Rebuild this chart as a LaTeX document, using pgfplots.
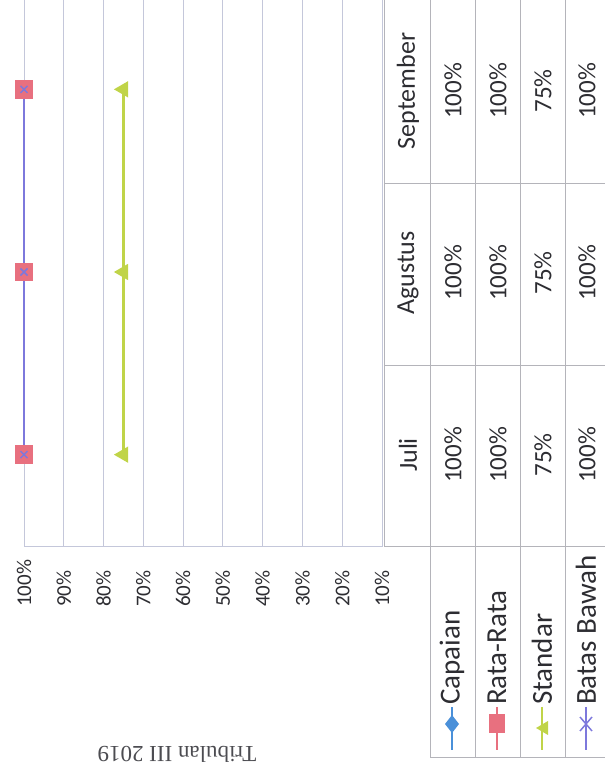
\documentclass[border=0pt]{standalone}
\usepackage{pgfplots}
\pgfplotsset{compat=1.18}
\usepackage{fontspec}
\setmainfont{Carlito}
\newfontfamily\seriffont{Liberation Serif}
\definecolor{capc}{RGB}{74,144,217}
\definecolor{ratac}{RGB}{232,112,127}
\definecolor{stdc}{RGB}{192,212,72}
\definecolor{batc}{RGB}{125,120,220}
\definecolor{gridc}{RGB}{196,199,218}
\definecolor{tabc}{RGB}{180,180,186}
\definecolor{txt}{RGB}{45,45,50}
\newcommand{\tickfont}{\fontsize{21}{22}\selectfont}
\newcommand{\monfont}{\fontsize{26}{27}\selectfont}
\newcommand{\valfont}{\fontsize{25}{26}\selectfont}
\newcommand{\legfont}{\fontsize{29}{30}\selectfont}
\begin{document}
\begin{tikzpicture}
\useasboundingbox (0,0) rectangle (605pt,772pt);
\begin{axis}[
  scale only axis, width=358pt, height=548pt,
  at={(24pt,226pt)}, anchor=south west,
  xmin=10, xmax=100, x dir=reverse,
  ymin=-0.5, ymax=2.5,
  xtick={10,20,...,100},
  ytick=\empty,
  xmajorgrids, grid style={gridc, line width=0.9pt},
  axis line style={gridc, line width=0.9pt},
  tick style={draw=none},
  /pgf/number format/assume math mode=true,
  xticklabel={\pgfmathprintnumber{\tick}\%},
  xticklabel style={rotate=90, anchor=west, font=\tickfont, text=txt, inner sep=0pt},
  xticklabel shift=61pt,
  clip=false,
]
\addplot[capc, line width=2.5pt, mark=diamond*, mark size=7pt] coordinates {(100,0) (100,1) (100,2)};
\addplot[ratac, line width=2.5pt, mark=square*, mark size=8pt] coordinates {(100,0) (100,1) (100,2)};
\addplot[stdc, line width=2.5pt, mark=triangle*, mark size=7pt, mark options={rotate=90}] coordinates {(75,0) (75,1) (75,2)};
\addplot[batc, line width=2.5pt, mark=x, mark size=5pt, mark options={line width=1.5pt}] coordinates {(100,0) (100,1) (100,2)};
\end{axis}
\begin{scope}[x=1pt, y=-1pt, shift={(0pt,772pt)}]
  % data table grid
  \draw[tabc, line width=0.9pt] (384,-5) -- (384,546);
  \foreach \x in {430,475,520,565} \draw[tabc, line width=0.9pt] (\x,-5) -- (\x,757);
  \foreach \y in {183,365,546} \draw[tabc, line width=0.9pt] (384,\y) -- (612,\y);
  \draw[tabc, line width=0.9pt] (430,757) -- (612,757);
  % month headers
  \foreach \m/\py in {Juli/455, Agustus/273, September/91}
    \node[rotate=90, font=\monfont, text=txt] at (408,\py) {\m};
  % values
  \foreach \py in {455,273,91} {
    \node[rotate=90, font=\valfont, text=txt] at (453,\py) {100\%};
    \node[rotate=90, font=\valfont, text=txt] at (498,\py) {100\%};
    \node[rotate=90, font=\valfont, text=txt] at (543,\py) {75\%};
    \node[rotate=90, font=\valfont, text=txt] at (587,\py) {100\%};
  }
  % legend keys (row headers)
  \draw[capc, line width=2.5pt] (452,707) -- (452,750);
  \fill[capc] (452,715) -- (459,724) -- (452,733) -- (445,724) -- cycle;
  \node[rotate=90, anchor=west, font=\legfont, text=txt, inner sep=1pt] at (452,706) {Capaian};
  \draw[ratac, line width=2.5pt] (497,707) -- (497,750);
  \fill[ratac] (489,714) rectangle (505,733);
  \node[rotate=90, anchor=west, font=\legfont, text=txt, inner sep=1pt] at (497,706) {Rata-Rata};
  \draw[stdc, line width=2.5pt] (542,707) -- (542,750);
  \fill[stdc] (536,728) -- (548,721) -- (548,735) -- cycle;
  \node[rotate=90, anchor=west, font=\legfont, text=txt, inner sep=1pt] at (542,706) {Standar};
  \draw[batc, line width=2.5pt] (586,707) -- (586,750);
  \draw[batc, line width=1.5pt] (580,717) -- (592,731) (580,731) -- (592,717);
  \node[rotate=90, anchor=west, font=\legfont, text=txt, inner sep=1pt] at (586,706) {Batas Bawah};
  % title (upside down)
  \node[rotate=180, font=\seriffont\fontsize{23}{24}\selectfont, text=txt!85] at (177,754) {Tribulan III 2019};
\end{scope}
\end{tikzpicture}
\end{document}
